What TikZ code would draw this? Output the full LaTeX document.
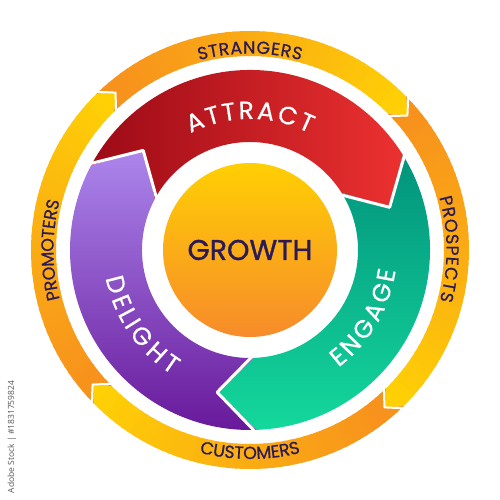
\documentclass[tikz,border=0pt]{standalone}
\usepackage{fontspec}
\setmainfont{Poppins}
\newfontfamily\pmed[FakeBold=0.6]{Poppins}
\newfontfamily\psemi[FakeBold=1.2]{Poppins}
\newfontfamily\wmfont{Open Sans}
\usetikzlibrary{decorations.text}
\definecolor{navy}{HTML}{2B1A55}
\definecolor{ringO}{HTML}{F7901E}
\definecolor{ringY}{HTML}{FFD105}
\definecolor{redL}{HTML}{9C0A16}
\definecolor{redR}{HTML}{EC3130}
\definecolor{grnT}{HTML}{02937C}
\definecolor{grnB}{HTML}{14D89C}
\definecolor{purT}{HTML}{AC86EC}
\definecolor{purB}{HTML}{67189A}
\definecolor{gY}{HTML}{FFCF03}
\definecolor{gO}{HTML}{F78B2B}
\newcommand\outerfont{\pmed\fontsize{17.5}{17.5}\selectfont}
\newcommand\innerfont{\pmed\fontsize{25}{25}\selectfont}
\newcommand\outerseg[2]{%
 \begin{scope}
 \clip (#1:219) arc[start angle=#1,end angle=#2,radius=219] -- ({#2-4}:207) -- (#2:194) arc[start angle=#2,end angle=#1,radius=194] -- ({#1-4}:207) -- cycle;
 \foreach \k in {0,...,47}{
   \pgfmathsetmacro\aa{#1+2-\k*2}
   \pgfmathsetmacro\bb{\aa-2.6}
   \pgfmathsetmacro\tval{min(100,100*(\k/46)^1.2)}
   \fill[ringY!\tval!ringO] (0,0) -- (\aa:232) -- (\bb:232) -- cycle;
 }
 \end{scope}}
\tikzset{
  sep/.style={white,line width=#1,line join=round},
  outerlbl/.style={decorate,decoration={text effects along path,text={#1},
     text effects/.cd,text along path,fit text to path,
     characters={text=navy,font=\outerfont,inner sep=0pt}}},
  innerlbl/.style={decorate,decoration={text effects along path,text={#1},
     text effects/.cd,text along path,fit text to path,
     characters={text=white,font=\innerfont,inner sep=0pt}}}
}
\begin{document}
\begin{tikzpicture}[x=1pt,y=1pt]
\fill[white] (-250,-250) rectangle (250,250);
\useasboundingbox (-250,-250) rectangle (250,250);
% outer ring
\outerseg{134.5}{44.5}
\outerseg{44.5}{-45.5}
\outerseg{-45.5}{-135.5}
\outerseg{-135.5}{-225.5}
\foreach \b in {134.5,44.5,-45.5,-135.5}
  \draw[sep=2] (\b:222) -- ({\b-4}:207) -- (\b:191);
% inner ring
\shade[left color=redL,right color=redR]
  (152:180) arc[start angle=152,end angle=32,radius=180] -- (17:146) -- (32:108) arc[start angle=32,end angle=152,radius=108] -- (137:146) -- cycle;
\shade[top color=grnT,bottom color=grnB]
  (32:180) arc[start angle=32,end angle=-88,radius=180] -- (-103:146) -- (-88:108) arc[start angle=-88,end angle=32,radius=108] -- (17:146) -- cycle;
\shade[top color=purT,bottom color=purB]
  (-88:180) arc[start angle=-88,end angle=-208,radius=180] -- (-223:146) -- (-208:108) arc[start angle=-208,end angle=-88,radius=108] -- (-103:146) -- cycle;
\foreach \b in {152,32,-88}
  \draw[sep=3] (\b:183) -- ({\b-15}:146) -- (\b:105);
% centre
\shade[top color=gY,bottom color=gO] (0,0) circle[radius=87];
\node[font=\psemi\fontsize{28.5}{28.5}\selectfont,text=navy] (growth) at (0,0) {GROWTH};
% inner labels
\path[innerlbl=ATTRACT] (117:131) arc[start angle=117,end angle=63,radius=131];
\path[innerlbl=ENGAGE] (-53:147) arc[start angle=-53,end angle=-8,radius=147];
\path[innerlbl=DELIGHT] (191:147) arc[start angle=191,end angle=238,radius=147];
% outer labels
\path[outerlbl=STRANGERS] (105:196.5) arc[start angle=105,end angle=75,radius=196.5];
\path[outerlbl=PROSPECTS] (15.5:196.5) arc[start angle=15.5,end angle=-15,radius=196.5];
\path[outerlbl=PROMOTERS] (194.5:196.5) arc[start angle=194.5,end angle=165.5,radius=196.5];
\path[outerlbl=CUSTOMERS] (256:209) arc[start angle=256,end angle=284,radius=209];
\node[rotate=90,font=\wmfont\fontsize{8.5}{9}\selectfont,text=black!65] (wm) at (-238,-187) {Adobe Stock | \#1831759824};
\end{tikzpicture}
\end{document}
